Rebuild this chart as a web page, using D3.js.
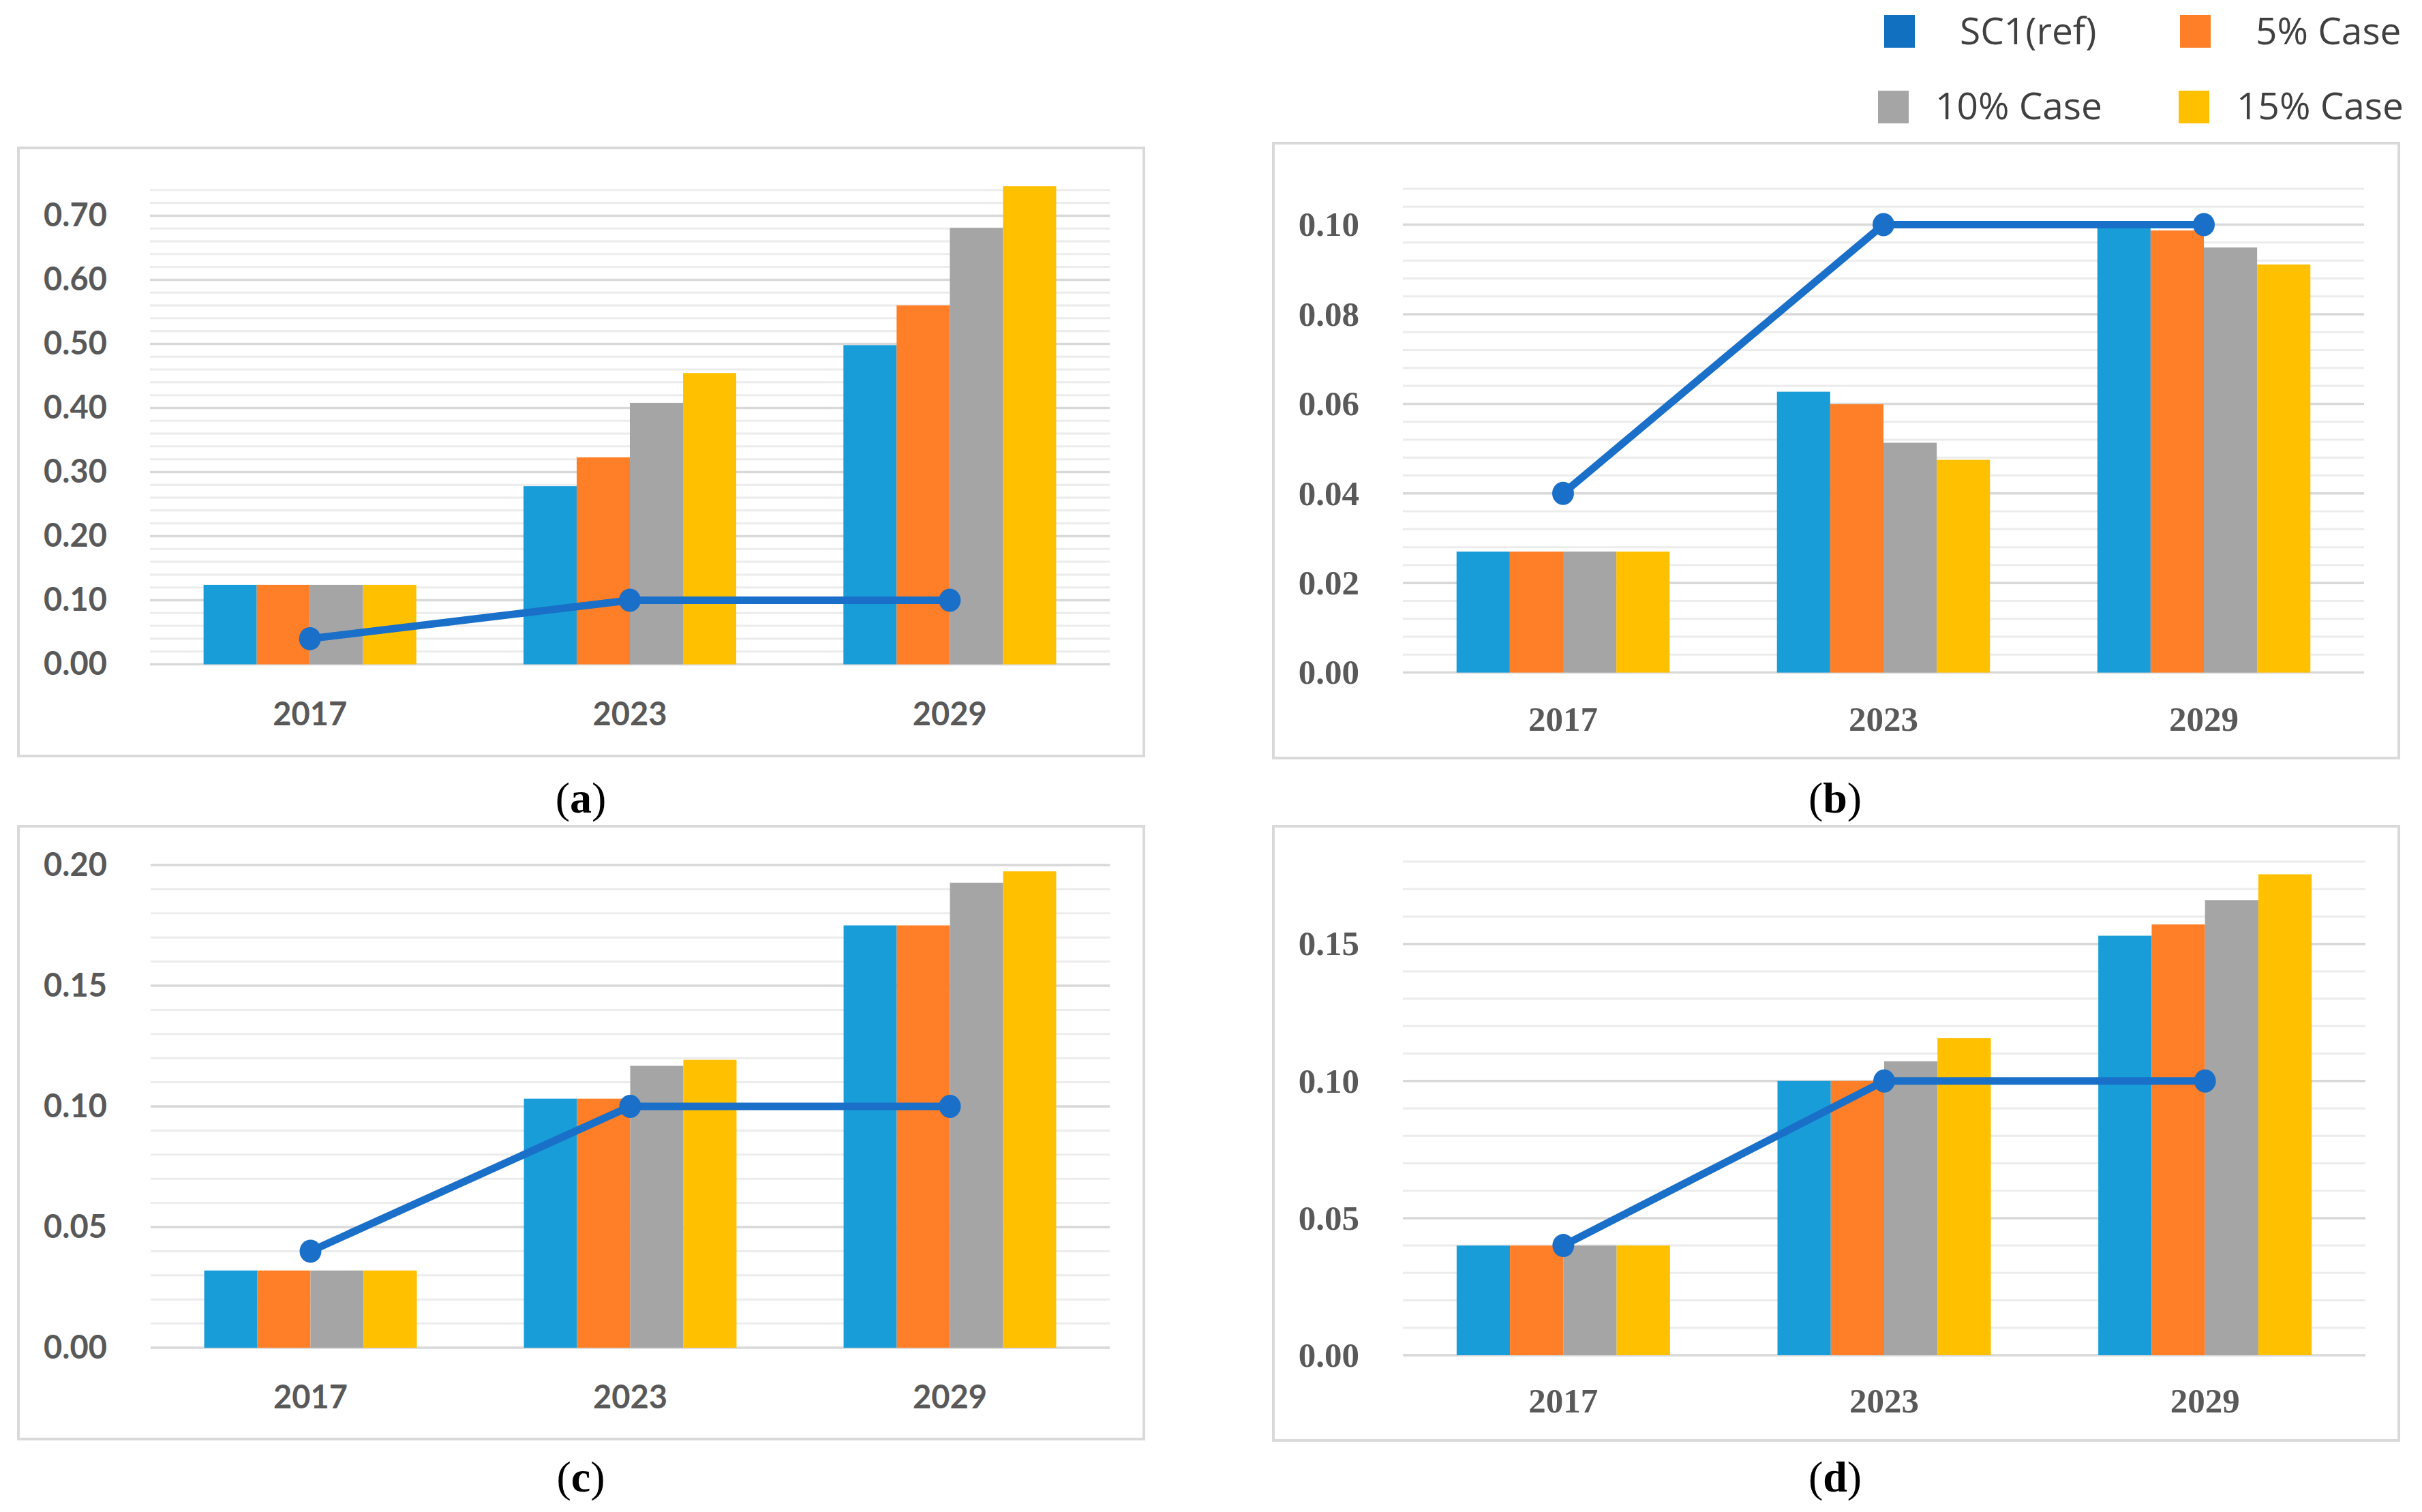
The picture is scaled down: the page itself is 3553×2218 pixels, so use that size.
<!DOCTYPE html>
<html>
<head>
<meta charset="utf-8">
<script src="https://cdn.jsdelivr.net/npm/d3@7"></script>
<style>
  html, body { margin: 0; padding: 0; background: #fff; }
  svg { display: block; }
</style>
</head>
<body>
<svg id="chart"></svg>
<script>
// categories and series
const years = ["2017", "2023", "2029"]
const seriesNames = ["SC1(ref)", "5% Case", "10% Case", "15% Case"]

// panel (a)
const aSC1 = [0.124, 0.278, 0.498]
const a5 = [0.124, 0.323, 0.560]
const a10 = [0.124, 0.408, 0.681]
const a15 = [0.124, 0.4545, 0.746]
const aLine = [0.04, 0.10, 0.10]
const aTicks = [0, 0.1, 0.2, 0.3, 0.4, 0.5, 0.6, 0.7]

// panel (b)
const bSC1 = [0.027, 0.0627, 0.0992]
const b5 = [0.027, 0.0599, 0.0987]
const b10 = [0.027, 0.0513, 0.0949]
const b15 = [0.027, 0.0475, 0.0911]
const bLine = [0.04, 0.10, 0.10]
const bTicks = [0, 0.02, 0.04, 0.06, 0.08, 0.10]

// panel (c)
const cSC1 = [0.032, 0.1032, 0.175]
const c5 = [0.032, 0.1032, 0.175]
const c10 = [0.032, 0.1168, 0.1927]
const c15 = [0.032, 0.1193, 0.1974]
const cLine = [0.04, 0.10, 0.10]
const cTicks = [0, 0.05, 0.10, 0.15, 0.20]

// panel (d)
const dSC1 = [0.04, 0.10, 0.153]
const d5 = [0.04, 0.10, 0.1571]
const d10 = [0.04, 0.1072, 0.166]
const d15 = [0.04, 0.1156, 0.1754]
const dLine = [0.04, 0.10, 0.10]
const dTicks = [0, 0.05, 0.10, 0.15]

const barColors = ["#189dd8", "#fe7f27", "#a5a5a5", "#ffc000"]
const legendColors = ["#1170c0", "#fe7f27", "#a5a5a5", "#ffc000"]
const lineColor = "#1a6fc8"

const W = 3553, H = 2218
const svg = d3.select("#chart").attr("width", W).attr("height", H)

const sans = "Lato, 'Open Sans', sans-serif"
const serif = "'Liberation Serif', 'Times New Roman', serif"

const panels = [
  { label: "a", series: [aSC1, a5, a10, a15], line: aLine, ticks: aTicks, max: 0.74, minor: 0.02, font: sans,
    box: [27, 217, 1678, 1109], px: [220, 1628], py: [974.5, 278.8], tickX: 157, xLabelY: 1048, cap: [852, 1170] },
  { label: "b", series: [bSC1, b5, b10, b15], line: bLine, ticks: bTicks, max: 0.108, minor: 0.004, font: serif,
    box: [1868, 210, 3519, 1112], px: [2058, 3468], py: [986.6, 277], tickX: 1994, xLabelY: 1054, cap: [2692, 1170] },
  { label: "c", series: [cSC1, c5, c10, c15], line: cLine, ticks: cTicks, max: 0.20, minor: 0.01, font: sans,
    box: [27, 1212, 1678, 2111], px: [221, 1628], py: [1977, 1269], tickX: 157, xLabelY: 2050, cap: [852, 2166] },
  { label: "d", series: [dSC1, d5, d10, d15], line: dLine, ticks: dTicks, max: 0.18, minor: 0.01, font: serif,
    box: [1868, 1212, 3519, 2113], px: [2058, 3470], py: [1988, 1264], tickX: 1994, xLabelY: 2054, cap: [2692, 2166] }
]

panels.forEach(p => {
  const g = svg.append("g")
  const fs = p.font === sans ? 47 : 51

  // frame
  g.append("rect")
    .attr("x", p.box[0]).attr("y", p.box[1])
    .attr("width", p.box[2] - p.box[0]).attr("height", p.box[3] - p.box[1])
    .attr("fill", "#fff").attr("stroke", "#d9d9d9").attr("stroke-width", 4)

  const x = d3.scaleBand().domain(years).range(p.px).paddingInner(0.335).paddingOuter(0.1675)
  const xs = d3.scaleBand().domain(seriesNames).range([0, x.bandwidth()])
  const y = d3.scaleLinear().domain([0, p.max]).range(p.py)

  // minor gridlines
  const minorTicks = d3.range(0, p.max + p.minor / 2, p.minor)
  g.append("g").selectAll("line").data(minorTicks).join("line")
    .attr("x1", p.px[0]).attr("x2", p.px[1])
    .attr("y1", d => y(d)).attr("y2", d => y(d))
    .attr("stroke", "#ececec").attr("stroke-width", 3)

  // major gridlines
  g.append("g").selectAll("line").data(p.ticks).join("line")
    .attr("x1", p.px[0]).attr("x2", p.px[1])
    .attr("y1", d => y(d)).attr("y2", d => y(d))
    .attr("stroke", "#d9d9d9").attr("stroke-width", 3.5)

  // y axis labels
  const yAxis = g.append("g")
    .attr("transform", `translate(${p.tickX},0)`)
    .call(d3.axisLeft(y).tickValues(p.ticks).tickFormat(d3.format(".2f")).tickSize(0).tickPadding(0))
  yAxis.select(".domain").remove()
  yAxis.selectAll("text")
    .attr("font-family", p.font).attr("font-weight", "bold")
    .attr("font-size", fs).attr("fill", "#595959")

  // x axis labels
  const xAxis = g.append("g")
    .attr("transform", `translate(0,${p.xLabelY})`)
    .call(d3.axisBottom(x).tickSize(0).tickPadding(0))
  xAxis.select(".domain").remove()
  xAxis.selectAll("text")
    .attr("dy", "0.35em")
    .attr("font-family", p.font).attr("font-weight", "bold")
    .attr("font-size", fs).attr("fill", "#595959")

  // bars
  p.series.forEach((vals, si) => {
    g.append("g").selectAll("rect").data(vals).join("rect")
      .attr("x", (d, i) => x(years[i]) + xs(seriesNames[si]))
      .attr("y", d => y(d))
      .attr("width", xs.bandwidth())
      .attr("height", d => y(0) - y(d))
      .attr("fill", barColors[si])
  })

  // target line
  const line = d3.line()
    .x((d, i) => x(years[i]) + x.bandwidth() / 2)
    .y(d => y(d))
  g.append("path").datum(p.line)
    .attr("d", line)
    .attr("fill", "none").attr("stroke", lineColor).attr("stroke-width", 11)
    .attr("stroke-linejoin", "round")
  g.append("g").selectAll("ellipse").data(p.line).join("ellipse")
    .attr("cx", (d, i) => x(years[i]) + x.bandwidth() / 2)
    .attr("cy", d => y(d))
    .attr("rx", 16).attr("ry", 17)
    .attr("fill", lineColor)

  // caption
  const cap = svg.append("text")
    .attr("x", p.cap[0]).attr("y", p.cap[1])
    .attr("dy", "0.35em")
    .attr("text-anchor", "middle")
    .attr("font-family", serif).attr("font-size", 64).attr("fill", "#000")
  cap.append("tspan").text("(")
  cap.append("tspan").attr("font-weight", "bold").text(p.label)
  cap.append("tspan").text(")")
})

// legend
const legendItems = [
  { sq: [2764, 22], tx: 2875, ty: 46 },
  { sq: [3198, 22], tx: 3309, ty: 46 },
  { sq: [2755, 133], tx: 2839, ty: 156 },
  { sq: [3196, 133], tx: 3281, ty: 156 }
]
const legend = svg.append("g")
seriesNames.forEach((name, i) => {
  const it = legendItems[i]
  legend.append("rect")
    .attr("x", it.sq[0]).attr("y", it.sq[1])
    .attr("width", 45).attr("height", 48)
    .attr("fill", legendColors[i])
  legend.append("text")
    .attr("x", it.tx).attr("y", it.ty)
    .attr("dy", "0.35em")
    .attr("font-family", "'Open Sans', 'Noto Sans', sans-serif")
    .attr("font-size", 55).attr("fill", "#404040")
    .text(name)
})
</script>
</body>
</html>
